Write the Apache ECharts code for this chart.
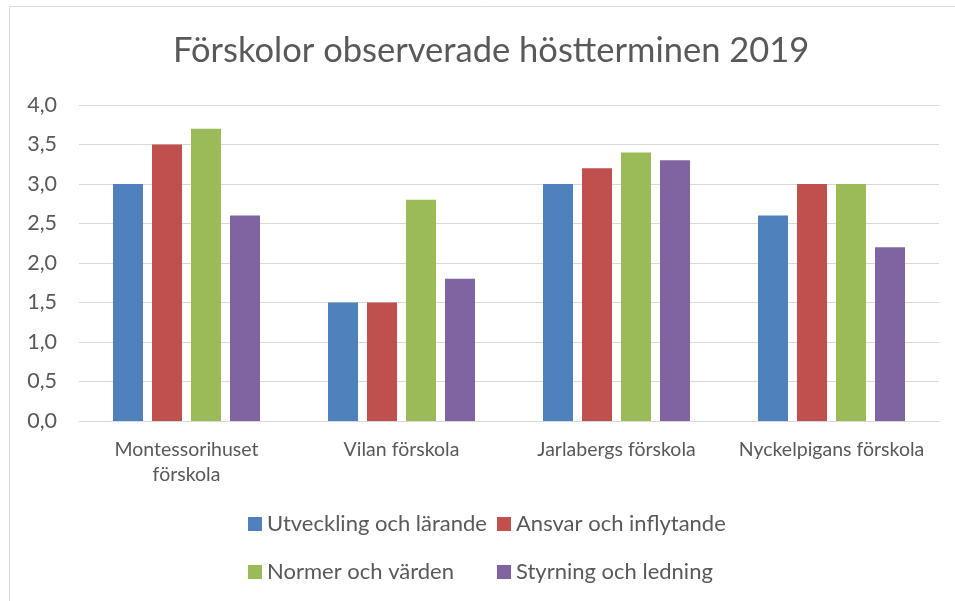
<!DOCTYPE html>
<html>
<head>
<meta charset="utf-8">
<script src="https://cdn.jsdelivr.net/npm/echarts@6/dist/echarts.min.js"></script>
<style>
	html, body { margin: 0; padding: 0; background: #fff; }
	#chart { width: 955px; height: 601px; }
</style>
</head>
<body>
<div id="chart"></div>
<script>
const categories = ['Montessorihuset\nförskola', 'Vilan förskola', 'Jarlabergs förskola', 'Nyckelpigans förskola'];
const seriesNames = ['Utveckling och lärande', 'Ansvar och inflytande', 'Normer och värden', 'Styrning och ledning'];
const utveckling = [3.0, 1.5, 3.0, 2.6];
const ansvar = [3.5, 1.5, 3.2, 3.0];
const normer = [3.7, 2.8, 3.4, 3.0];
const styrning = [2.6, 1.8, 3.3, 2.2];
const colors = ['#4F81BD', '#C0504D', '#9BBB59', '#8064A2'];

const textColor = '#595959';
const font = 'Lato, "Open Sans", sans-serif';

const getOption = () => {
	const values = [utveckling, ansvar, normer, styrning];
	const legendStyle = {
		orient: 'vertical',
		top: 512,
		padding: 0,
		itemWidth: 14,
		itemHeight: 14,
		itemGap: 24,
		icon: 'rect',
		textStyle: { color: textColor, fontSize: 22, fontFamily: font, lineHeight: 24 }
	};
	return {
		animation: false,
		title: {
			text: 'Förskolor observerade höstterminen 2019',
			left: 168,
			top: 28,
			textStyle: { color: textColor, fontSize: 34.5, fontWeight: 'normal', fontFamily: font }
		},
		graphic: [
			{
				type: 'rect',
				shape: { x: 9.5, y: 6.5, width: 1000, height: 700 },
				style: { fill: 'none', stroke: '#D9D9D9', lineWidth: 1 },
				silent: true
			}
		],
		legend: [
			Object.assign({ left: 248, data: [seriesNames[0], seriesNames[2]] }, legendStyle),
			Object.assign({ left: 497, data: [seriesNames[1], seriesNames[3]] }, legendStyle)
		],
		grid: { left: 79, right: 16, top: 105, bottom: 180 },
		xAxis: {
			type: 'category',
			data: categories,
			axisLine: { lineStyle: { color: '#D9D9D9', width: 1 } },
			axisTick: { show: false },
			axisLabel: {
				interval: 0,
				color: textColor,
				fontSize: 19.5,
				fontFamily: font,
				lineHeight: 25,
				margin: 16
			}
		},
		yAxis: {
			type: 'value',
			min: 0,
			max: 4,
			interval: 0.5,
			axisLine: { show: false },
			axisTick: { show: false },
			splitLine: { lineStyle: { color: '#D9D9D9', width: 1 } },
			axisLabel: {
				color: textColor,
				fontSize: 21.5,
				fontFamily: font,
				margin: 22,
				formatter: v => v.toFixed(1).replace('.', ',')
			}
		},
		series: seriesNames.map((name, i) => ({
			name: name,
			type: 'bar',
			data: values[i],
			barWidth: 30,
			barGap: '30%',
			itemStyle: { color: colors[i] }
		}))
	};
};

const chart = echarts.init(document.getElementById('chart'));
chart.setOption(getOption());
</script>
</body>
</html>
